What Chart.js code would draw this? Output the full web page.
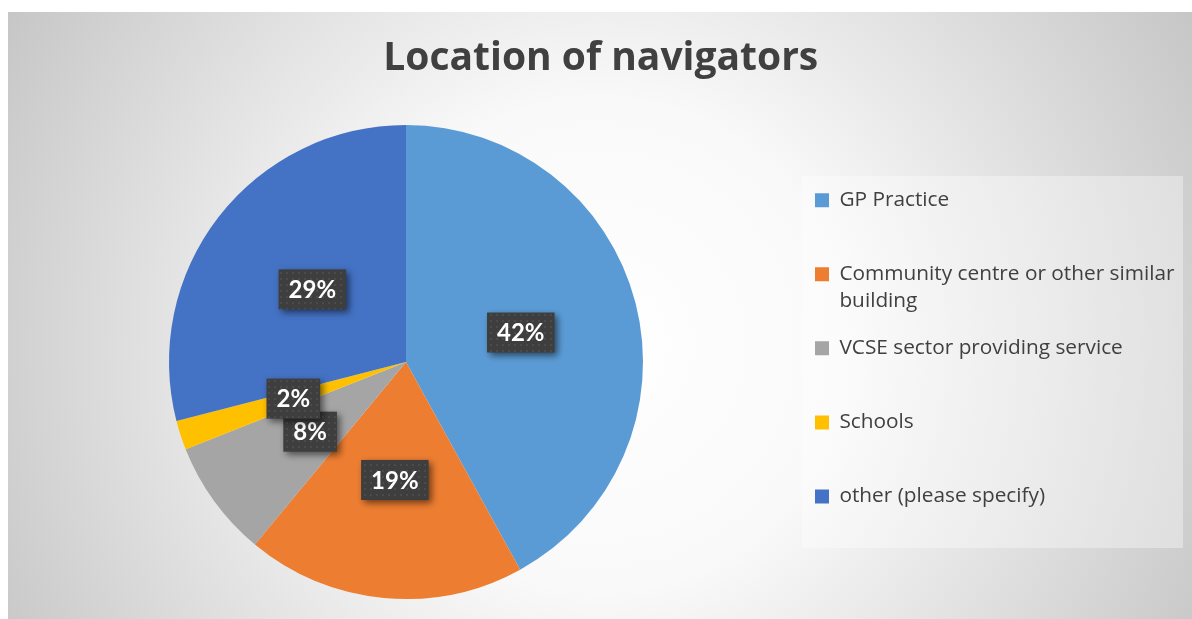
<!DOCTYPE html>
<html lang="en">
<head>
<meta charset="UTF-8">
<title>Location of navigators</title>
<script src="https://cdn.jsdelivr.net/npm/chart.js"></script>
<style>
  html, body { margin: 0; background: #fff; }
  .wrap { position: absolute; left: 8px; top: 12px; width: 1184px; height: 607px; }
</style>
</head>
<body>
<div class="wrap"><canvas id="pieChart" width="1184" height="607"></canvas></div>
<script>
// data (shown as % of total)
const categories = [
    ['GP Practice'],
    ['Community centre or other similar', 'building'],
    ['VCSE sector providing service'],
    ['Schools'],
    ['other (please specify)']
];
const shares = [42, 19, 8, 2, 29];
const sliceColors = ['#5b9bd5', '#ed7d31', '#a5a5a5', '#ffc000', '#4472c4'];
const chartTitle = 'Location of navigators';

const FONT = '"Open Sans", Lato, sans-serif';
const LABEL_FONT = 'Lato, "Open Sans", sans-serif';
const legendLeft = 787;   // where the legend column should start

// small dotted fill used behind the percentage labels
function dotPattern(ctx) {
    const c = document.createElement('canvas');
    c.width = 6; c.height = 6;
    const p = c.getContext('2d');
    p.fillStyle = '#3e3e3e';
    p.fillRect(0, 0, 6, 6);
    p.fillStyle = '#4b4b4b';
    p.fillRect(2, 2, 2, 2);
    return ctx.createPattern(c, 'repeat');
}

const backdrop = {
    id: 'backdrop',
    beforeDraw(chart) {
        const { ctx, width, height } = chart;
        ctx.save();
        const g = ctx.createRadialGradient(width / 2, height * 0.55, 0, width / 2, height * 0.55, 700);
        g.addColorStop(0, '#ffffff');
        g.addColorStop(0.35, '#f9f9f9');
        g.addColorStop(1, '#c4c4c4');
        ctx.fillStyle = g;
        ctx.fillRect(0, 0, width, height);

        // light panel behind the legend
        const lg = chart.legend;
        const midY = (lg.top + lg.bottom) / 2;
        ctx.fillStyle = 'rgba(255,255,255,0.35)';
        ctx.fillRect(lg.left + 7, midY - 186, width - 9 - (lg.left + 7), 372);
        ctx.restore();
    }
};

const sliceLabels = {
    id: 'sliceLabels',
    afterDatasetsDraw(chart) {
        const ctx = chart.ctx;
        const meta = chart.getDatasetMeta(0);
        const values = chart.data.datasets[0].data;
        const total = values.reduce((a, b) => a + b, 0);
        const pattern = dotPattern(ctx);
        ctx.save();
        ctx.font = 'bold 24px ' + LABEL_FONT;
        ctx.textAlign = 'center';
        ctx.textBaseline = 'middle';
        meta.data.forEach((arc, i) => {
            const pos = arc.tooltipPosition();
            const txt = Math.round(values[i] / total * 100) + '%';
            const w = ctx.measureText(txt).width + 20;
            const h = 40;
            ctx.save();
            ctx.shadowColor = 'rgba(0,0,0,0.55)';
            ctx.shadowBlur = 7;
            ctx.shadowOffsetX = 3;
            ctx.shadowOffsetY = 3;
            ctx.fillStyle = pattern;
            ctx.fillRect(pos.x - w / 2, pos.y - h / 2, w, h);
            ctx.restore();
            ctx.fillStyle = '#ffffff';
            ctx.fillText(txt, pos.x, pos.y + 1);
        });
        ctx.restore();
    }
};

const ctx = document.getElementById('pieChart').getContext('2d');
const pieChart = new Chart(ctx, {
    type: 'pie',
    data: {
        labels: categories,
        datasets: [{
            data: shares,
            backgroundColor: sliceColors,
            borderWidth: 0,
            hoverOffset: 0
        }]
    },
    plugins: [backdrop, sliceLabels],
    options: {
        responsive: false,
        animation: false,
        events: [],
        layout: { padding: { left: 9, right: 0, top: 0, bottom: 20 } },
        plugins: {
            title: {
                display: true,
                text: chartTitle,
                color: '#404040',
                font: { family: FONT, size: 39, weight: 'bold', lineHeight: 1.2 },
                padding: { top: 23, bottom: 43.2 }
            },
            legend: {
                position: 'right',
                align: 'center',
                fullSize: false,
                // empty title, only nudges the item column down a little
                title: { display: true, text: ' ', padding: 0, font: { size: 5, lineHeight: 1.2 } },
                labels: {
                    color: '#404040',
                    boxWidth: 14,
                    boxHeight: 14,
                    padding: 20,
                    font: { family: FONT, size: 20.8, lineHeight: 1.3 },
                    generateLabels(chart) {
                        const items = Chart.overrides.pie.plugins.legend.labels.generateLabels(chart);
                        // every entry gets two lines so the slots are evenly spaced
                        items.forEach(it => {
                            const lines = Array.isArray(it.text) ? it.text.slice() : [it.text];
                            while (lines.length < 2) lines.push('');
                            it.text = lines;
                        });
                        return items;
                    }
                }
            },
            tooltip: { enabled: false }
        }
    }
});

// put the legend column where the reference has it
pieChart.config.options.layout.padding.right = pieChart.width - legendLeft - pieChart.legend.width;
pieChart.update();
</script>
</body>
</html>
